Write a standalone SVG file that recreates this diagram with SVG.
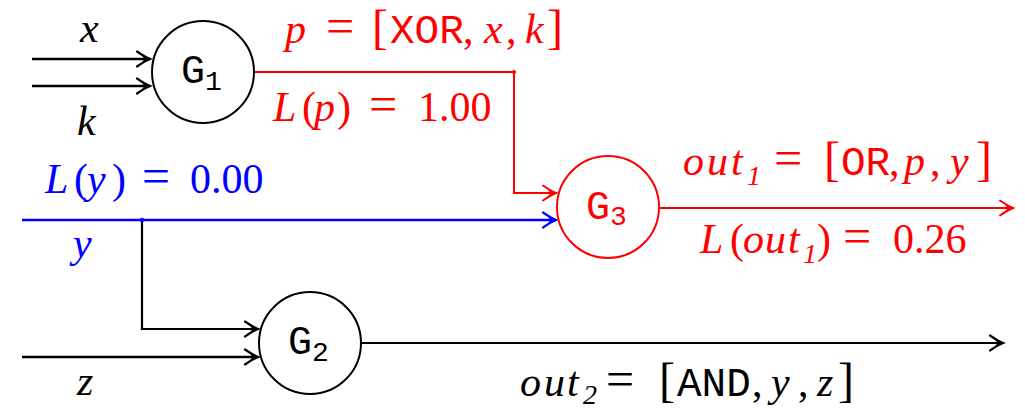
<svg xmlns="http://www.w3.org/2000/svg" width="1025" height="408" viewBox="0 0 1025 408">
<defs>
<marker id="ak" markerUnits="userSpaceOnUse" markerWidth="20" markerHeight="20" refX="0" refY="0" viewBox="-15 -10 20 20" orient="auto" overflow="visible">
<path d="M-13,-7.5 Q-5,-2 0,0 Q-5,2 -13,7.5" fill="none" stroke="#000000" stroke-width="2.2" stroke-linecap="round"/>
<path d="M1,0 L-8,-3.2 L-5.5,0 L-8,3.2 Z" fill="#000000"/>
</marker>
<marker id="ar" markerUnits="userSpaceOnUse" markerWidth="20" markerHeight="20" refX="0" refY="0" viewBox="-15 -10 20 20" orient="auto" overflow="visible">
<path d="M-13,-7.5 Q-5,-2 0,0 Q-5,2 -13,7.5" fill="none" stroke="#ff0000" stroke-width="2" stroke-linecap="round"/>
<path d="M1,0 L-8,-3.2 L-5.5,0 L-8,3.2 Z" fill="#ff0000"/>
</marker>
<marker id="ab" markerUnits="userSpaceOnUse" markerWidth="20" markerHeight="20" refX="0" refY="0" viewBox="-15 -10 20 20" orient="auto" overflow="visible">
<path d="M-13,-7.5 Q-5,-2 0,0 Q-5,2 -13,7.5" fill="none" stroke="#0000ff" stroke-width="2.2" stroke-linecap="round"/>
<path d="M1,0 L-8,-3.2 L-5.5,0 L-8,3.2 Z" fill="#0000ff"/>
</marker>
</defs>
<rect x="0" y="0" width="1025" height="408" fill="#ffffff"/>

<g id="connectors" fill="none">
<path id="wire-x" d="M32,59 H150" stroke="#000000" stroke-width="2.6" marker-end="url(#ak)"/>
<path id="wire-k" d="M32,86 H150" stroke="#000000" stroke-width="2.6" marker-end="url(#ak)"/>
<path id="wire-p" d="M254,72 H514 V193 H556" stroke="#ff0000" stroke-width="2" marker-end="url(#ar)"/>
<circle cx="514" cy="72" r="2" fill="#ff0000"/>
<path id="wire-y" d="M22,220 H556" stroke="#0000ff" stroke-width="2.6" marker-end="url(#ab)"/>
<path id="wire-y2" d="M142,220 V329 H258" stroke="#000000" stroke-width="2.2" marker-end="url(#ak)"/>
<circle cx="142" cy="220" r="2.2" fill="#0000ff"/>
<path id="wire-z" d="M22,357 H258" stroke="#000000" stroke-width="2.4" marker-end="url(#ak)"/>
<path id="wire-out2" d="M361,343 H1003" stroke="#000000" stroke-width="2.2" marker-end="url(#ak)"/>
<path id="wire-out1" d="M660,208 H1013" stroke="#ff0000" stroke-width="2" marker-end="url(#ar)"/>
</g>

<g id="G1">
<circle cx="203" cy="72" r="51" fill="#ffffff" stroke="#000000" stroke-width="2"/>
<text font-family="Liberation Mono" font-size="40" fill="#000000" x="181" y="83">G</text>
<text font-family="Liberation Mono" font-size="28" fill="#000000" x="205" y="90">1</text>
</g>
<g id="G2">
<circle cx="310" cy="343" r="51" fill="#ffffff" stroke="#000000" stroke-width="2"/>
<text font-family="Liberation Mono" font-size="40" fill="#000000" x="288" y="354">G</text>
<text font-family="Liberation Mono" font-size="28" fill="#000000" x="312" y="361">2</text>
</g>
<g id="G3">
<circle cx="608" cy="207" r="51" fill="#ffffff" stroke="#ff0000" stroke-width="2"/>
<text font-family="Liberation Mono" font-size="40" fill="#ff0000" x="586" y="219">G</text>
<text font-family="Liberation Mono" font-size="28" fill="#ff0000" x="610" y="225">3</text>
</g>

<g id="labels">
<text font-family="Liberation Serif" font-size="42" font-style="italic" fill="#000000" x="80" y="42">x</text>
<text font-family="Liberation Serif" font-size="42" font-style="italic" fill="#000000" x="77" y="135">k</text>

<text font-family="Liberation Serif" font-size="42" fill="#ff0000" y="43"><tspan x="285" font-style="italic">p</tspan><tspan x="326" font-size="50">=</tspan><tspan x="372" font-size="48">[</tspan><tspan x="390" font-family="Liberation Mono" font-size="41">XOR</tspan><tspan x="463">,</tspan><tspan x="484" font-style="italic">x</tspan><tspan x="506">,</tspan><tspan x="525" font-style="italic">k</tspan><tspan x="547" font-size="48">]</tspan></text>

<text font-family="Liberation Serif" font-size="42" fill="#ff0000" y="121"><tspan x="273" font-style="italic">L</tspan><tspan x="302">(</tspan><tspan x="314" font-style="italic">p</tspan><tspan x="337">)</tspan><tspan x="369" font-size="50">=</tspan><tspan x="418">1.00</tspan></text>

<text font-family="Liberation Serif" font-size="42" fill="#0000ff" y="193"><tspan x="45" font-style="italic">L</tspan><tspan x="74">(</tspan><tspan x="87" font-style="italic">y</tspan><tspan x="112">)</tspan><tspan x="142" font-size="50">=</tspan><tspan x="190">0.00</tspan></text>
<text font-family="Liberation Serif" font-size="42" font-style="italic" fill="#0000ff" x="73" y="257">y</text>
<text font-family="Liberation Serif" font-size="42" font-style="italic" fill="#000000" x="77" y="395">z</text>

<text font-family="Liberation Serif" font-size="42" fill="#ff0000" y="175"><tspan x="683 707 731" font-style="italic">out</tspan><tspan x="747" y="185" font-style="italic" font-size="28">1</tspan><tspan x="774" y="175" font-size="50">=</tspan><tspan x="824" font-size="48">[</tspan><tspan x="841" font-family="Liberation Mono" font-size="41">OR</tspan><tspan x="889">,</tspan><tspan x="904" font-style="italic">p</tspan><tspan x="930">,</tspan><tspan x="950" font-style="italic">y</tspan><tspan x="976" font-size="48">]</tspan></text>

<text font-family="Liberation Serif" font-size="42" fill="#ff0000" y="253"><tspan x="700" font-style="italic">L</tspan><tspan x="730">(</tspan><tspan x="743 765 788" font-style="italic">out</tspan><tspan x="803" y="263" font-style="italic" font-size="28">1</tspan><tspan x="817" y="253">)</tspan><tspan x="843" font-size="50">=</tspan><tspan x="893">0.26</tspan></text>

<text font-family="Liberation Serif" font-size="42" fill="#000000" y="396"><tspan x="520 544 567" font-style="italic">out</tspan><tspan x="583" y="404" font-style="italic" font-size="28">2</tspan><tspan x="606" y="396" font-size="50">=</tspan><tspan x="659" font-size="48">[</tspan><tspan x="677" font-family="Liberation Mono" font-size="41">AND</tspan><tspan x="752">,</tspan><tspan x="771" font-style="italic">y</tspan><tspan x="798">,</tspan><tspan x="817" font-style="italic">z</tspan><tspan x="838" font-size="48">]</tspan></text>
</g>
</svg>
